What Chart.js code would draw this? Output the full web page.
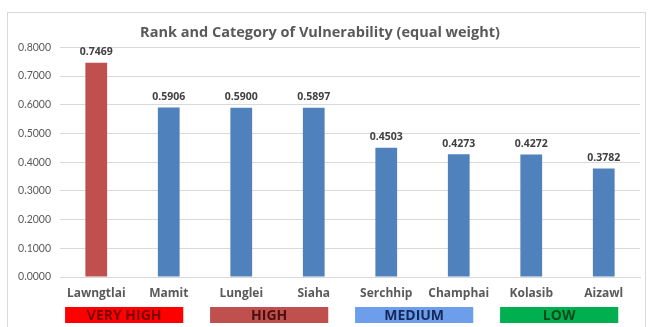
<!DOCTYPE html>
<html>
<head>
<meta charset="utf-8">
<script src="https://cdn.jsdelivr.net/npm/chart.js@4.4.1/dist/chart.umd.min.js"></script>
<style>
html,body{margin:0;padding:0;background:#fff;}
#wrap{width:648px;height:327px;position:relative;}
</style>
</head>
<body>
<div id="wrap"><canvas id="c" width="648" height="327"></canvas></div>
<script>
const categories = ["Lawngtlai","Mamit","Lunglei","Siaha","Serchhip","Champhai","Kolasib","Aizawl"];
const values = [0.7469,0.5906,0.5900,0.5897,0.4503,0.4273,0.4272,0.3782];
const barColors = ["#C0504D","#4F81BD","#4F81BD","#4F81BD","#4F81BD","#4F81BD","#4F81BD","#4F81BD"];
const yTicks = [0,0.1,0.2,0.3,0.4,0.5,0.6,0.7,0.8];
const groupLabels = ["VERY HIGH","HIGH","MEDIUM","LOW"];
const groupFirst = [0,2,4,6];
const groupLast = [1,3,5,7];
const groupFill = ["#FF0000","#C0504D","#6D9EEB","#00B050"];
const groupText = ["#7A0000","#4A1010","#15285A","#0B4A1C"];
const titleText = "Rank and Category of Vulnerability (equal weight)";
const FONT = "'Open Sans', Lato, sans-serif";
const TICKFONT = "Lato, 'Open Sans', sans-serif";

const framePlugin = {
  id:'frame',
  beforeDraw(chart){
    const ctx = chart.ctx;
    ctx.save();
    ctx.fillStyle = '#fff';
    ctx.fillRect(0,0,chart.width,chart.height);
    ctx.strokeStyle = '#d9d9d9';
    ctx.lineWidth = 1;
    ctx.strokeRect(7.5,12.5,638,340);
    ctx.restore();
  }
};

const labelPlugin = {
  id:'labels',
  afterDatasetsDraw(chart){
    const ctx = chart.ctx;
    const meta = chart.getDatasetMeta(0);
    ctx.save();
    ctx.font = "bold 10.5px " + FONT;
    ctx.fillStyle = '#404040';
    ctx.textAlign = 'center';
    ctx.textBaseline = 'bottom';
    meta.data.forEach((bar,i)=>{
      ctx.fillText(values[i].toFixed(4), bar.x, bar.y - 5);
    });
    ctx.restore();
  },
  afterDraw(chart){
    const ctx = chart.ctx;
    const xs = chart.scales.x;
    ctx.save();
    ctx.font = "bold 14px " + FONT;
    ctx.textAlign = 'center';
    ctx.textBaseline = 'middle';
    const top = 307, h = 16;
    groupLabels.forEach((lab,i)=>{
      const l = xs.getPixelForValue(groupFirst[i] - 0.43);
      const r = xs.getPixelForValue(groupLast[i] + 0.2);
      ctx.fillStyle = groupFill[i];
      ctx.fillRect(l, top, r-l, h);
      ctx.fillStyle = groupText[i];
      ctx.fillText(lab, (l+r)/2, top + h/2 + 1);
    });
    ctx.restore();
  }
};

new Chart(document.getElementById('c'), {
  type:'bar',
  data:{
    labels: categories,
    datasets:[{
      data: values,
      backgroundColor: barColors,
      borderWidth: 0,
      barPercentage: 0.6,
      categoryPercentage: 0.5
    }]
  },
  options:{
    responsive:false,
    animation:false,
    devicePixelRatio:1,
    layout:{padding:{left:0,right:8,top:0,bottom:26}},
    plugins:{
      legend:{display:false},
      tooltip:{enabled:false},
      title:{
        display:true,
        text:titleText,
        color:'#595959',
        font:{family:FONT,size:14.5,weight:'bold'},
        padding:{top:24,bottom:6}
      }
    },
    scales:{
      x:{
        grid:{display:false,drawTicks:false},
        border:{display:true,color:'#d9d9d9'},
        ticks:{color:'#595959',font:{family:FONT,size:12,weight:'bold'},padding:9,maxRotation:0,autoSkip:true},
        afterFit(s){ s.height = 24; }
      },
      y:{
        min:0,max:0.8,
        afterBuildTicks(s){ s.ticks = yTicks.map(v=>({value:v})); },
        grid:{color:'#d9d9d9',drawTicks:false},
        border:{display:false},
        ticks:{color:'#595959',font:{family:TICKFONT,size:10.5},padding:9,
          callback:(v)=>Number(v).toFixed(4)},
        afterFit(s){ s.width = 60; }
      }
    }
  },
  plugins:[framePlugin,labelPlugin]
});
</script>
</body>
</html>
